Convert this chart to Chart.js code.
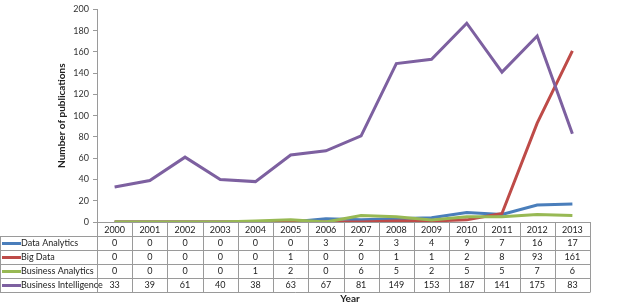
<!DOCTYPE html>
<html lang="en">
<head>
  <meta charset="UTF-8">
  <title>Publications by year</title>
  <script src="https://cdn.jsdelivr.net/npm/chart.js"></script>
  <style>
    html, body { margin: 0; padding: 0; background: #ffffff; }
    .chart-box { position: relative; width: 619px; height: 305px; }
  </style>
</head>
<body>
<div class="chart-box">
  <canvas id="pubChart"></canvas>
</div>
<script>
  const years = ['2000','2001','2002','2003','2004','2005','2006','2007','2008','2009','2010','2011','2012','2013'];
  const dataAnalytics = [0, 0, 0, 0, 0, 0, 3, 2, 3, 4, 9, 7, 16, 17];
  const bigData = [0, 0, 0, 0, 0, 1, 0, 0, 1, 1, 2, 8, 93, 161];
  const businessAnalytics = [0, 0, 0, 0, 1, 2, 0, 6, 5, 2, 5, 5, 7, 6];
  const businessIntelligence = [33, 39, 61, 40, 38, 63, 67, 81, 149, 153, 187, 141, 175, 83];
  const yTicks = [0, 20, 40, 60, 80, 100, 120, 140, 160, 180, 200];

  const font = "Lato, 'Open Sans', sans-serif";
  const gridColor = '#9a9a9a';

  // rows of the data table under the plot, same order as in the picture
  const series = [
    { label: 'Data Analytics', data: dataAnalytics, color: '#4a7ebb', order: 4 },
    { label: 'Big Data', data: bigData, color: '#be4b48', order: 3 },
    { label: 'Business Analytics', data: businessAnalytics, color: '#98b954', order: 2 },
    { label: 'Business Intelligence', data: businessIntelligence, color: '#7d60a0', order: 1 }
  ];

  const dataTable = {
    id: 'dataTable',
    afterDraw(chart) {
      const c = chart.ctx;
      const xs = chart.scales.x;
      const n = years.length;
      const colW = (xs.right - xs.left) / n;
      const top = xs.top;
      const rowH = 14;
      const headH = 14;
      const bodyTop = top + headH;
      const bottom = bodyTop + rowH * series.length;

      c.save();
      c.strokeStyle = gridColor;
      c.lineWidth = 1;
      c.beginPath();
      // vertical lines
      for (let i = 0; i <= n; i++) {
        const x = Math.round(xs.left + i * colW) + 0.5;
        c.moveTo(x, top);
        c.lineTo(x, bottom);
      }
      c.moveTo(0.5, bodyTop);
      c.lineTo(0.5, bottom);
      // horizontal lines
      for (let r = 0; r <= series.length; r++) {
        const y = Math.round(bodyTop + r * rowH) + 0.5;
        c.moveTo(0, y);
        c.lineTo(Math.round(xs.right) + 0.5, y);
      }
      c.stroke();

      c.font = '9px ' + font;
      c.fillStyle = '#222';
      c.textBaseline = 'middle';
      c.textAlign = 'center';
      years.forEach((yr, i) => {
        c.fillText(yr, xs.getPixelForValue(i), top + headH / 2 + 1);
      });

      series.forEach((s, r) => {
        const cy = bodyTop + r * rowH + rowH / 2 + 0.5;
        c.strokeStyle = s.color;
        c.lineWidth = 3;
        c.beginPath();
        c.moveTo(2, cy);
        c.lineTo(21, cy);
        c.stroke();
        c.textAlign = 'left';
        c.fillText(s.label, 21, cy);
        c.textAlign = 'center';
        s.data.forEach((v, i) => {
          c.fillText(String(v), xs.getPixelForValue(i), cy);
        });
      });

      c.font = 'bold 10px ' + font;
      c.fillText('Year', 350, bottom + 7);
      c.restore();
    }
  };

  new Chart(document.getElementById('pubChart'), {
    type: 'line',
    data: {
      labels: years,
      datasets: series.map(s => ({
        label: s.label,
        data: s.data,
        borderColor: s.color,
        backgroundColor: s.color,
        borderWidth: 3,
        pointRadius: 0,
        tension: 0,
        order: s.order
      }))
    },
    options: {
      responsive: true,
      maintainAspectRatio: false,
      animation: false,
      layout: { padding: { top: 0, right: 29, left: 0, bottom: 0 } },
      plugins: { legend: { display: false }, tooltip: { enabled: false } },
      scales: {
        x: {
          offset: true,
          grid: { display: true, drawOnChartArea: false, drawTicks: false },
          border: { color: gridColor },
          ticks: { display: false },
          afterFit(scale) { scale.height = 83; }
        },
        y: {
          min: 0,
          max: 200,
          afterBuildTicks(scale) { scale.ticks = yTicks.map(v => ({ value: v })); },
          grid: { drawOnChartArea: false, drawTicks: true, tickLength: 4, color: gridColor },
          border: { color: gridColor },
          ticks: { font: { family: font, size: 9 }, color: '#333', padding: 4 },
          title: {
            display: true,
            text: 'Number of publications',
            font: { family: font, size: 10, weight: 'bold' },
            color: '#222',
            padding: { top: 56, bottom: 0 }
          },
          afterFit(scale) { scale.width = 97; }
        }
      }
    },
    plugins: [dataTable]
  });
</script>
</body>
</html>
